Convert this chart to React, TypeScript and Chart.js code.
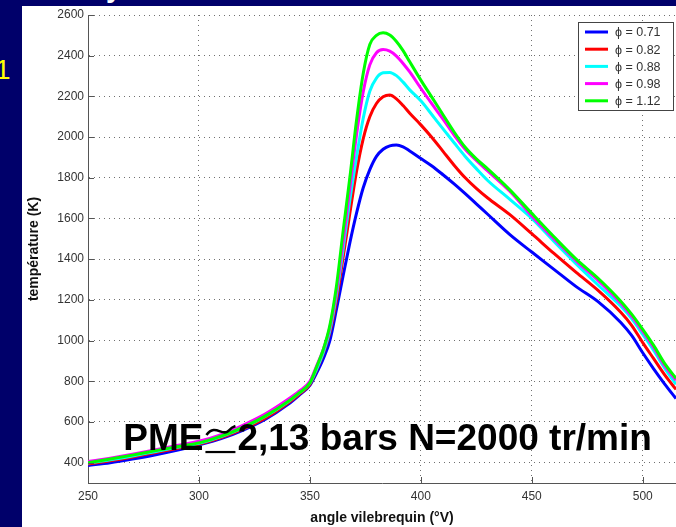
import React, { useEffect, useRef } from "react";
import { Chart, registerables } from "chart.js";

Chart.register(...registerables);

// ---- data ----
const ANGLES = [250, 260, 270, 280, 290, 300, 310, 320, 330, 340, 345, 350, 353, 356, 359, 362, 365, 368, 371, 374, 377, 380, 383, 386, 389, 392, 395, 400, 405, 410, 415, 420, 425, 430, 440, 450, 460, 470, 480, 490, 495, 500, 505, 510, 515];

const T_071 = [386, 400, 418, 438, 461, 487, 518, 560, 613, 685, 730, 780, 840, 910, 1000, 1155, 1320, 1480, 1625, 1750, 1840, 1905, 1940, 1957, 1961, 1952, 1932, 1895, 1858, 1815, 1770, 1722, 1672, 1622, 1522, 1435, 1350, 1265, 1190, 1090, 1025, 940, 860, 785, 715];
const T_082 = [393, 409, 428, 449, 470, 491, 523, 566, 620, 692, 735, 785, 855, 935, 1040, 1200, 1410, 1625, 1830, 1990, 2100, 2165, 2198, 2207, 2188, 2155, 2117, 2060, 1998, 1930, 1862, 1800, 1748, 1702, 1620, 1525, 1428, 1335, 1245, 1140, 1075, 990, 910, 830, 760];
const T_088 = [398, 414, 433, 454, 475, 495, 528, 572, 628, 698, 740, 790, 860, 940, 1050, 1225, 1450, 1690, 1900, 2090, 2225, 2290, 2316, 2318, 2302, 2270, 2232, 2178, 2110, 2040, 1972, 1905, 1845, 1788, 1695, 1600, 1487, 1377, 1272, 1170, 1108, 1030, 950, 862, 785];
const T_098 = [405, 422, 441, 462, 484, 505, 538, 585, 640, 710, 750, 800, 875, 955, 1065, 1245, 1490, 1750, 2010, 2220, 2355, 2415, 2430, 2422, 2398, 2362, 2320, 2240, 2163, 2088, 2010, 1940, 1885, 1835, 1735, 1612, 1500, 1392, 1295, 1185, 1120, 1045, 965, 875, 805];
const T_112 = [400, 418, 437, 458, 478, 497, 530, 575, 630, 700, 742, 792, 870, 955, 1075, 1270, 1540, 1800, 2080, 2310, 2455, 2500, 2513, 2502, 2470, 2425, 2370, 2280, 2195, 2110, 2025, 1950, 1893, 1845, 1742, 1625, 1510, 1400, 1305, 1195, 1130, 1055, 975, 885, 815];

const SERIES = [T_071, T_082, T_088, T_098, T_112];
const LABELS = ["ϕ = 0.71", "ϕ = 0.82", "ϕ = 0.88", "ϕ = 0.98", "ϕ = 1.12"];
const COLORS = ["#0000ff", "#ff0000", "#00ffff", "#ff00ff", "#00ff00"];

const X_TICKS = [250, 300, 350, 400, 450, 500];
const Y_TICKS = [400, 600, 800, 1000, 1200, 1400, 1600, 1800, 2000, 2200, 2400, 2600];
const X_MIN = 250;
const X_MAX = 515;
const Y_MIN = 300;
const Y_MAX = 2600;

const X_TITLE = "angle vilebrequin (°V)";
const Y_TITLE = "température (K)";
const ANNOT_LEFT = "PME";
const ANNOT_SYMBOL = "≃";
const ANNOT_RIGHT = "2,13 bars N=2000 tr/min";
const ANNOT_X = 385;
const ANNOT_Y = 462;

const FONT = '"Liberation Sans", Arial, "DejaVu Sans", sans-serif';

const extrasPlugin = {
  id: "extras",
  afterDraw(chart: any) {
    const { ctx, chartArea, scales } = chart;
    ctx.save();
    // inward tick marks
    ctx.strokeStyle = "#555";
    ctx.lineWidth = 1;
    ctx.setLineDash([]);
    Y_TICKS.forEach((v) => {
      const y = Math.round(scales.y.getPixelForValue(v)) + 0.5;
      ctx.beginPath();
      ctx.moveTo(chartArea.left, y);
      ctx.lineTo(chartArea.left + 6, y);
      ctx.stroke();
    });
    X_TICKS.forEach((v) => {
      const x = Math.round(scales.x.getPixelForValue(v)) + 0.5;
      ctx.beginPath();
      ctx.moveTo(x, chartArea.bottom);
      ctx.lineTo(x, chartArea.bottom - 6);
      ctx.stroke();
    });

    // annotation: "PME" + approx-equal symbol + rest
    ctx.font = "bold 37px " + FONT;
    ctx.fillStyle = "#000";
    ctx.textAlign = "left";
    ctx.textBaseline = "alphabetic";
    const wl = ctx.measureText(ANNOT_LEFT).width;
    const wr = ctx.measureText(ANNOT_RIGHT).width;
    const ws = 34;
    const cx = scales.x.getPixelForValue(ANNOT_X);
    const yb = scales.y.getPixelForValue(ANNOT_Y);
    const x0 = cx - (wl + ws + wr) / 2;
    ctx.fillText(ANNOT_LEFT, x0, yb);
    ctx.fillText(ANNOT_RIGHT, x0 + wl + ws, yb);
    // symbol drawn as tilde over a bar (glyph ANNOT_SYMBOL)
    const sx = x0 + wl + 3;
    const sw = ws - 5;
    ctx.strokeStyle = "#000";
    ctx.lineWidth = 2.6;
    ctx.lineCap = "butt";
    ctx.beginPath();
    ctx.moveTo(sx, yb - 15);
    ctx.bezierCurveTo(sx + sw * 0.3, yb - 27, sx + sw * 0.55, yb - 13, sx + sw * 0.75, yb - 19);
    ctx.quadraticCurveTo(sx + sw * 0.88, yb - 23, sx + sw, yb - 24);
    ctx.stroke();
    ctx.lineWidth = 2.2;
    ctx.beginPath();
    ctx.moveTo(sx - 1, yb + 2);
    ctx.lineTo(sx + sw, yb + 2);
    ctx.stroke();

    // legend
    const bw = 95;
    const bh = 88;
    const bx = chartArea.right - 3 - bw;
    const by = chartArea.top + 7;
    ctx.fillStyle = "#fff";
    ctx.fillRect(bx, by, bw, bh);
    ctx.strokeStyle = "#444";
    ctx.lineWidth = 1;
    ctx.strokeRect(Math.round(bx) + 0.5, Math.round(by) + 0.5, bw, bh);
    ctx.font = "12.5px " + FONT;
    ctx.textAlign = "left";
    ctx.textBaseline = "middle";
    chart.data.datasets.forEach((ds: any, i: number) => {
      const y = by + 10 + i * 17.2;
      ctx.strokeStyle = ds.borderColor;
      ctx.lineWidth = 3;
      ctx.beginPath();
      ctx.moveTo(bx + 7, y);
      ctx.lineTo(bx + 30, y);
      ctx.stroke();
      ctx.fillStyle = "#333";
      ctx.fillText(ds.label, bx + 37, y + 1);
    });
    ctx.restore();
  },
};

export default function App() {
  const ref = useRef<HTMLCanvasElement | null>(null);

  useEffect(() => {
    if (!ref.current) return;
    const datasets = SERIES.map((vals, i) => ({
      label: LABELS[i],
      data: ANGLES.map((a, j) => ({ x: a, y: vals[j] })),
      borderColor: COLORS[i],
      backgroundColor: COLORS[i],
      borderWidth: 3,
      pointRadius: 0,
      fill: false,
      cubicInterpolationMode: "monotone" as const,
      order: SERIES.length - i,
    }));
    const chart = new Chart(ref.current, {
      type: "line",
      data: { datasets },
      plugins: [extrasPlugin],
      options: {
        responsive: false,
        animation: false,
        events: [],
        layout: { padding: { top: 15, left: 0, right: 0, bottom: 0 } },
        plugins: { legend: { display: false }, tooltip: { enabled: false }, title: { display: false } },
        scales: {
          x: {
            type: "linear",
            min: X_MIN,
            max: X_MAX,
            afterBuildTicks: (s: any) => {
              s.ticks = X_TICKS.map((v) => ({ value: v }));
            },
            afterFit: (s: any) => {
              s.height = 44;
            },
            grid: { color: "#707070", lineWidth: 1, drawTicks: false },
            border: { display: true, color: "#555", width: 1, dash: [1, 4] },
            ticks: {
              padding: 6,
              color: "#333",
              font: { family: FONT, size: 12 },
              maxRotation: 0,
              callback: (v: any) => String(v),
            },
            title: {
              display: true,
              text: X_TITLE,
              color: "#111",
              font: { family: FONT, size: 14, weight: "bold", lineHeight: 1.2 },
              padding: 0,
            },
          },
          y: {
            type: "linear",
            min: Y_MIN,
            max: Y_MAX,
            afterBuildTicks: (s: any) => {
              s.ticks = Y_TICKS.map((v) => ({ value: v }));
            },
            afterFit: (s: any) => {
              s.width = 88;
            },
            grid: { color: "#707070", lineWidth: 1, drawTicks: false },
            border: { display: true, color: "#555", width: 1, dash: [1, 4] },
            ticks: {
              padding: 4,
              color: "#333",
              font: { family: FONT, size: 12 },
              callback: (v: any) => String(v),
            },
            title: {
              display: true,
              text: Y_TITLE,
              color: "#111",
              font: { family: FONT, size: 14, weight: "bold", lineHeight: 1.2 },
              padding: { top: 26, bottom: 0 },
            },
          },
        },
      },
    });
    return () => chart.destroy();
  }, []);

  return (
    <div style={{ position: "fixed", left: 0, top: 0, width: 676, height: 527, background: "#00006a", overflow: "hidden" }}>
      <div style={{ position: "absolute", left: 106, top: -26, color: "#fff", font: "bold 28px " + FONT, lineHeight: "28px" }}>y</div>
      <div style={{ position: "absolute", left: -5, top: 54, color: "#ffff00", font: "28px " + FONT, lineHeight: "32px" }}>1</div>
      <div style={{ position: "absolute", left: 22, top: 6, right: 0, bottom: 0, background: "#fff" }} />
      <canvas ref={ref} width={676} height={527} style={{ position: "absolute", left: 0, top: 0, display: "block" }} />
    </div>
  );
}
